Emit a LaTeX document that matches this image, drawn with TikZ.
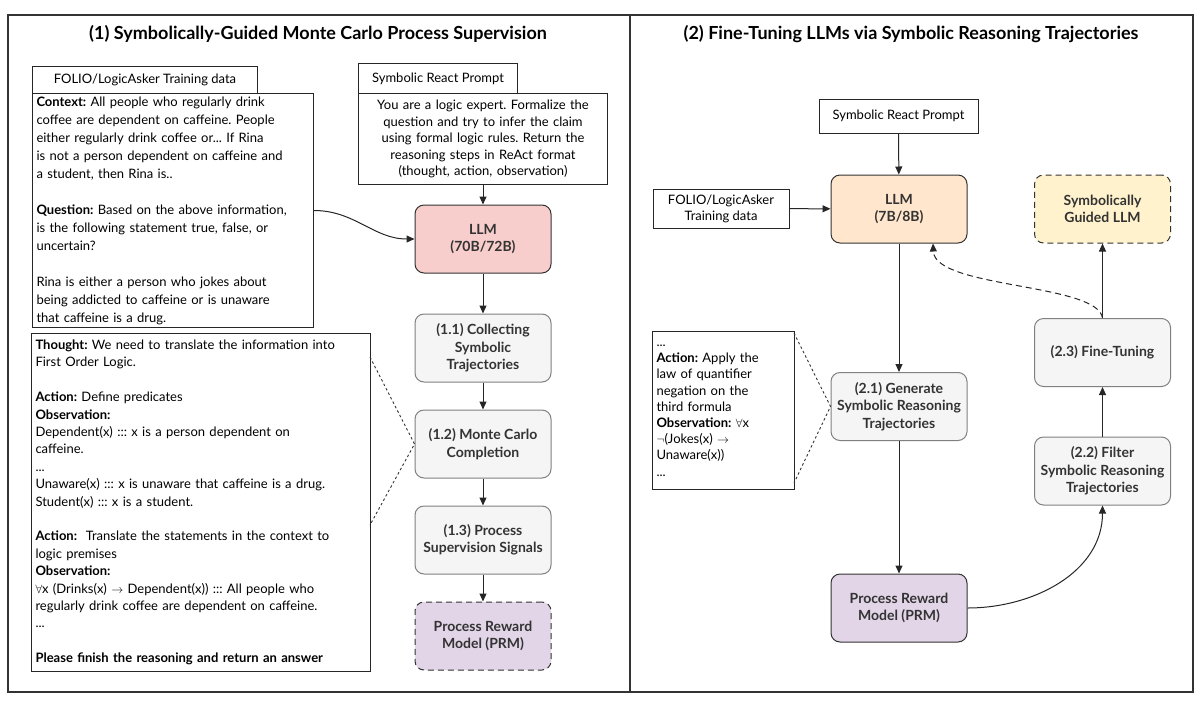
\documentclass[tikz,border=0pt]{standalone}
\usepackage{fontspec}
\setmainfont{Lato}
\usetikzlibrary{arrows.meta}
\frenchspacing

\definecolor{llmred}{HTML}{F8CECC}
\definecolor{llmpeach}{HTML}{FFE6CC}
\definecolor{sgyellow}{HTML}{FFF2CC}
\definecolor{prmpurple}{HTML}{E1D5E7}
\definecolor{stepgray}{HTML}{F5F5F5}
\definecolor{inkdark}{HTML}{333333}

\tikzset{
  frame/.style={draw=inkdark, line width=1.4pt},
  title/.style={font=\fontsize{18}{21}\selectfont\bfseries, text=black},
  box/.style={draw=black!85, line width=1pt, fill=white, inner xsep=4pt, inner ysep=3pt,
    font=\fontsize{13}{18}\selectfont},
  stepbox/.style={draw=black!50, fill=stepgray, rounded corners=9pt, line width=1pt,
    minimum width=136pt, minimum height=68pt, align=center, text=inkdark,
    font=\fontsize{14}{17.5}\selectfont\bfseries},
  llmbox/.style={stepbox, draw=inkdark},
  dashbox/.style={dash pattern=on 6pt off 4pt},
  arr/.style={-{Triangle[length=8pt,width=7pt]}, line width=1pt, draw=black!85},
  zoomline/.style={draw=black!80, line width=0.9pt, dash pattern=on 2.5pt off 2.5pt},
}

\begin{document}
\begin{tikzpicture}[x=1pt,y=-1pt]
\useasboundingbox (0,0) rectangle (1200,702);

% outer frames and titles
\draw[frame] (8,15) rectangle (1193,692);
\draw[frame] (630,15) -- (630,692);
\node[title] (title1) at (318,34) {(1) Symbolically-Guided Monte Carlo Process Supervision};
\node[title] (title2) at (911,34) {(2) Fine-Tuning LLMs via Symbolic Reasoning Trajectories};

% (1) inputs
\node[box, anchor=north west, minimum width=225pt, minimum height=27pt] (data1) at (32,66)
  {FOLIO/LogicAsker Training data};
\node[box, anchor=north west, text width=273pt, minimum height=234pt, align=left] (ctx) at (32,93)
  {\textbf{Context:} All people who regularly drink\\
   coffee are dependent on caffeine. People\\
   either regularly drink coffee or... If Rina\\
   is not a person dependent on caffeine and\\
   a student, then Rina is..\\[18pt]
   \textbf{Question:} Based on the above information,\\
   is the following statement true, false, or\\
   uncertain?\\[18pt]
   Rina is either a person who jokes about\\
   being addicted to caffeine or is unaware\\
   that caffeine is a drug.};
\node[box, anchor=north west, minimum width=159pt, minimum height=30pt] (tab1) at (358,63)
  {Symbolic React Prompt};
\node[box, anchor=north west, text width=241pt, minimum height=91pt, align=center,
  font=\fontsize{13}{16.5}\selectfont] (prompt1) at (358,93)
  {You are a logic expert. Formalize the\\
   question and try to infer the claim\\
   using formal logic rules. Return the\\
   reasoning steps in ReAct format\\
   (thought, action, observation)};

% (1) pipeline
\node[llmbox, fill=llmred] (llm1) at (483,239) {LLM\\(70B/72B)};
\node[stepbox] (s11) at (483,348) {(1.1) Collecting\\Symbolic\\Trajectories};
\node[stepbox] (s12) at (483,444) {(1.2) Monte Carlo\\Completion};
\node[stepbox] (s13) at (483,540) {(1.3) Process\\Supervision Signals};
\node[llmbox, dashbox, fill=prmpurple] (prm1) at (483,636) {Process Reward\\Model (PRM)};

\node[box, anchor=north west, text width=331pt, minimum height=338pt, align=left,
  font=\fontsize{13}{17.4}\selectfont] (thought) at (31,333)
  {\textbf{Thought:} We need to translate the information into\\
   First Order Logic.\\[17.4pt]
   \textbf{Action:} Define predicates\\
   \textbf{Observation:}\\
   Dependent(x) ::: x is a person dependent on\\
   caffeine.\\
   ...\\
   Unaware(x) ::: x is unaware that caffeine is a drug.\\
   Student(x) ::: x is a student.\\[17.4pt]
   \textbf{Action:}~ Translate the statements in the context to\\
   logic premises\\
   \textbf{Observation:}\\
   $\forall$x (Drinks(x) $\rightarrow$ Dependent(x)) ::: All people who\\
   regularly drink coffee are dependent on caffeine.\\
   ...\\[17.4pt]
   \textbf{Please finish the reasoning and return an answer}};
\coordinate (th1) at (370,357);
\coordinate (th2) at (370,525);

\draw[arr] (prompt1) -- (llm1);
\draw[arr] (ctx.east) to[out=0,in=180] (llm1.west);
\draw[arr] (llm1) -- (s11);
\draw[arr] (s11) -- (s12);
\draw[arr] (s12) -- (s13);
\draw[arr] (s13) -- (prm1);
\draw[zoomline] (th1) -- (s12.west) -- (th2);

% (2) fine-tuning
\node[box, minimum width=159pt, minimum height=34pt] (prompt2) at (898.5,116) {Symbolic React Prompt};
\node[box, minimum width=136pt, minimum height=39pt, align=center,
  font=\fontsize{13}{16}\selectfont] (data2) at (721,208.5) {FOLIO/LogicAsker\\Training data};
\node[llmbox, fill=llmpeach] (llm2) at (899,209) {LLM\\(7B/8B)};
\node[llmbox, dashbox, fill=sgyellow] (sg) at (1102.5,209) {Symbolically\\Guided LLM};
\node[stepbox] (s21) at (899,406.5) {(2.1) Generate\\Symbolic Reasoning\\Trajectories};
\node[llmbox, fill=prmpurple] (prm2) at (899,608) {Process Reward\\Model (PRM)};
\node[stepbox] (s22) at (1102.5,471) {(2.2) Filter\\Symbolic Reasoning\\Trajectories};
\node[stepbox] (s23) at (1102.5,352.5) {(2.3) Fine-Tuning};

\node[box, anchor=north west, text width=134pt, minimum height=158pt, align=left,
  font=\fontsize{13}{16.2}\selectfont] (act) at (652,331)
  {...\\
   \textbf{Action:} Apply the\\
   law of quantifier\\
   negation on the\\
   third formula\\
   \textbf{Observation:} $\forall$x\\
   $\neg$(Jokes(x) $\rightarrow$\\
   Unaware(x))\\
   ...};
\coordinate (ac1) at (794,333);
\coordinate (ac2) at (794,483);
\coordinate (fb) at ([xshift=34pt]llm2.south);

\draw[arr] (prompt2) -- (llm2);
\draw[arr] (data2) -- (llm2);
\draw[arr] (llm2) -- (s21);
\draw[arr] (s21) -- (prm2);
\draw[arr] (prm2.east) to[out=0,in=-90] (s22.south);
\draw[arr] (s22) -- (s23);
\draw[arr] (s23) -- (sg);
\draw[arr, dashbox] (s23.north) .. controls +(-5,-35) and +(2,45) .. (fb);
\draw[zoomline] (ac1) -- (s21.west) -- (ac2);
\end{tikzpicture}
\end{document}
